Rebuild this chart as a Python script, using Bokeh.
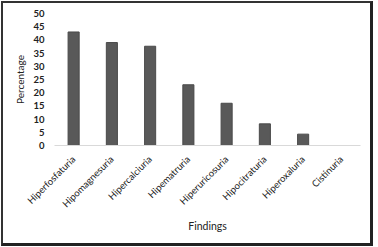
import math
from bokeh.plotting import figure
from bokeh.models import FactorRange, Range1d, ColumnDataSource
from bokeh.embed import file_html
from bokeh.resources import INLINE

findings = ["Hiperfosfaturia", "Hipomagnesuria", "Hipercalciuria", "Hipematruria",
            "Hiperuricosuria", "Hipocitraturia", "Hiperoxaluria", "Cistinuria"]
percentages = [43, 39, 37.6, 23, 16, 8.2, 4.3, 0]
y_ticks = [0, 5, 10, 15, 20, 25, 30, 35, 40, 45, 50]

FONT = "Lato"

src = ColumnDataSource(dict(x=findings, top=percentages))

p = figure(x_range=FactorRange(*findings, range_padding=0),
           y_range=Range1d(0, 50),
           width=372, height=245,
           min_border_left=51, min_border_right=15,
           min_border_top=10, min_border_bottom=103,
           output_backend="svg", toolbar_location=None,
           x_axis_label="Findings", y_axis_label="Percentage")

p.vbar(x="x", top="top", width=0.29, source=src,
       fill_color="#595959", line_color="#4a4a4a", line_width=1)

p.styles = {"margin-left": "1px", "margin-top": "1px",
            "border-left": "2px solid #333", "border-top": "2px solid #333",
            "border-right": "3px solid #222", "border-bottom": "3px solid #222"}

p.outline_line_color = None
p.xgrid.grid_line_color = None
p.ygrid.grid_line_color = None
p.background_fill_color = "white"
p.border_fill_color = "white"

p.yaxis.ticker = y_ticks
p.yaxis.axis_line_color = None
p.yaxis.major_tick_line_color = None
p.yaxis.minor_tick_line_color = None
p.yaxis.major_label_text_font = FONT
p.yaxis.major_label_text_font_size = "9.5px"
p.yaxis.major_label_text_font_style = "bold"
p.yaxis.major_label_text_color = "#222222"
p.yaxis.major_label_standoff = 4
p.yaxis.axis_label_text_font = FONT
p.yaxis.axis_label_text_font_size = "10px"
p.yaxis.axis_label_text_font_style = "normal"
p.yaxis.axis_label_text_color = "#222222"
p.yaxis.axis_label_standoff = 4

p.xaxis.axis_line_color = "#d9d9d9"
p.xaxis.axis_line_width = 1
p.xaxis.major_tick_line_color = None
p.xaxis.minor_tick_line_color = None
p.xaxis.major_label_orientation = math.pi / 4
p.xaxis.major_label_text_font = FONT
p.xaxis.major_label_text_font_size = "9.5px"
p.xaxis.major_label_text_color = "#222222"
p.xaxis.major_label_standoff = 6
p.xaxis.axis_label_text_font = FONT
p.xaxis.axis_label_text_font_size = "10.5px"
p.xaxis.axis_label_text_font_style = "normal"
p.xaxis.axis_label_text_color = "#222222"
p.xaxis.axis_label_standoff = 4

open("out.html", "w").write(file_html(p, INLINE))
